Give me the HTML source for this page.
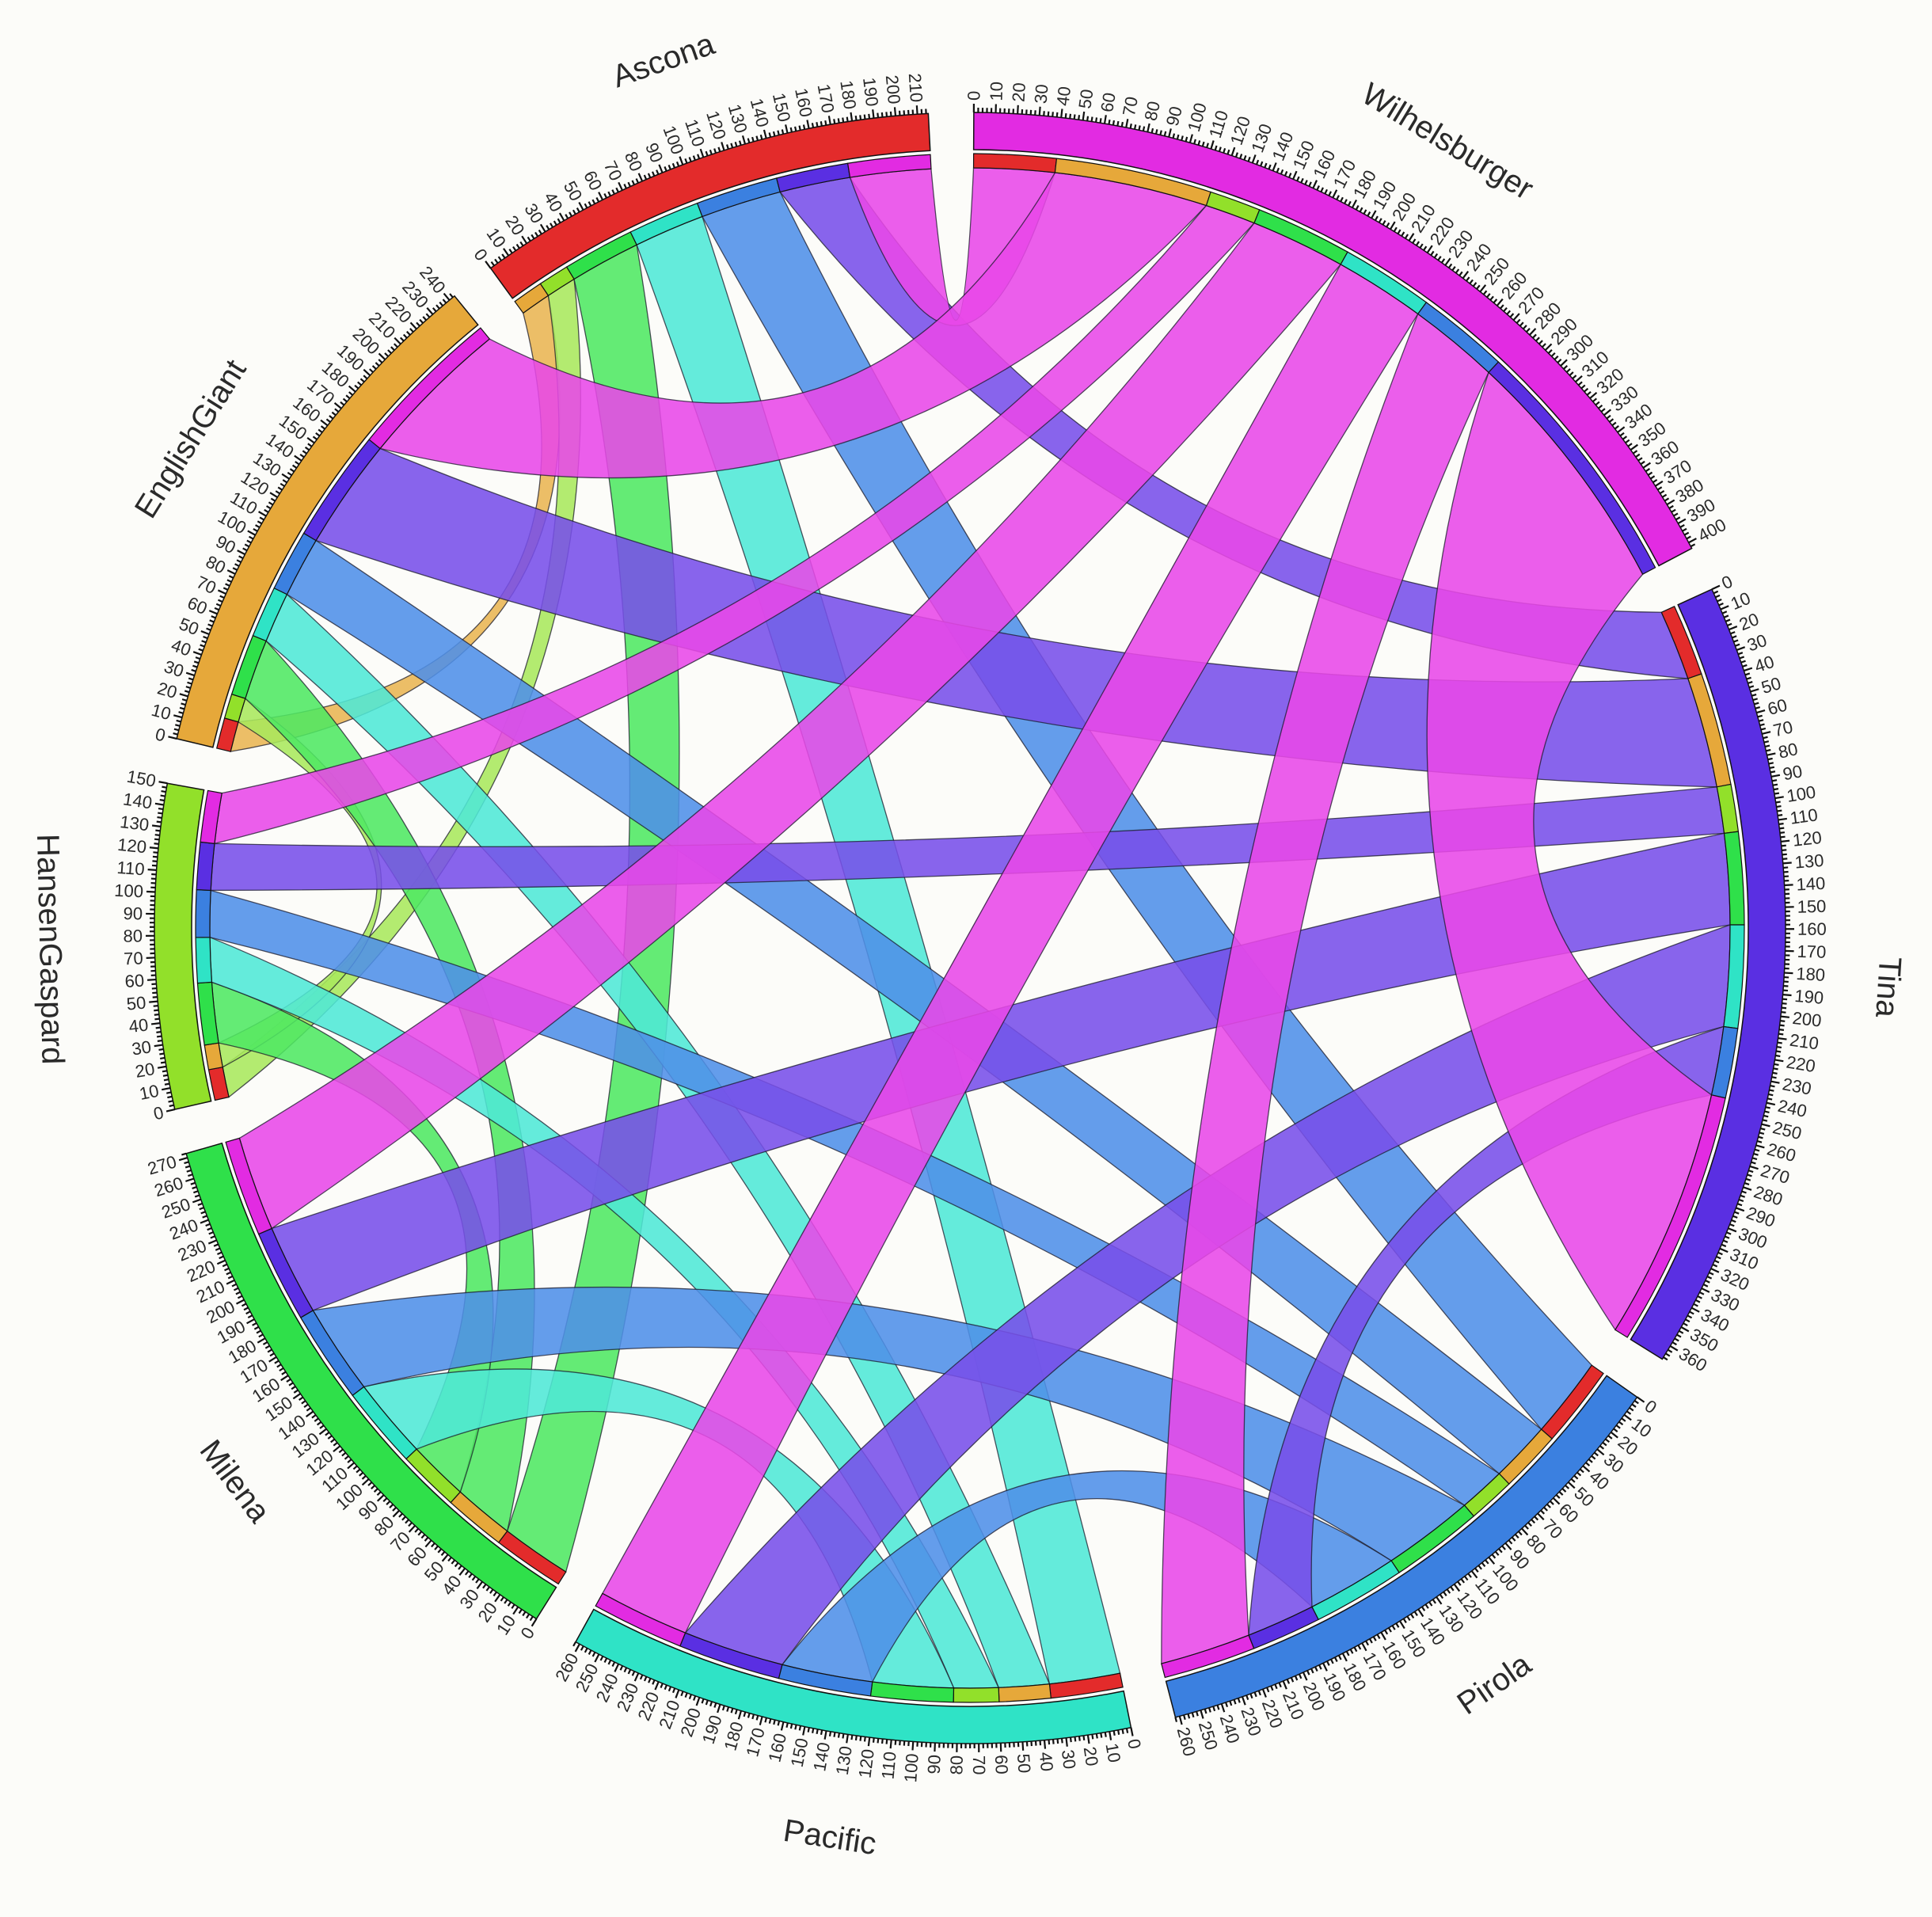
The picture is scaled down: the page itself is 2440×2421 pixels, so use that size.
<!DOCTYPE html>
<html>
<head>
<meta charset="utf-8">
<style>
html,body{margin:0;padding:0;background:#fcfcf9;}
svg{display:block;}
text{font-family:"Liberation Sans","DejaVu Sans",sans-serif;fill:#2a2a2a;}
</style>
</head>
<body>
<svg id="chart" width="2440" height="2421" viewBox="0 0 2440 2421" xmlns="http://www.w3.org/2000/svg">
<rect x="0" y="0" width="2440" height="2421" fill="#fcfcf9"/>
<g id="chords"></g>
<g id="arcs"></g>
<g id="ticks"></g>
<g id="labels"></g>
</svg>
<script>
// ---- data (alphabetical group index) ----
const groups = ["Ascona","EnglishGiant","HansenGaspard","Milena","Pacific","Pirola","Tina","Wilhelsburger"];
const groupColors = ["#e32b2b","#e6a83a","#92e02a","#2fe04a","#2fe3c6","#3b80e0","#5a2fe2","#e22be2"];
const chordColors = ["#e84848","#e9b552","#a8e85c","#4fe862","#4fe8d6","#4f8fe8","#784ee9","#e848e8"];
const rowAscona        = [0, 15, 15, 35, 35, 40, 35, 40];
const rowEnglishGiant  = [15, 0, 12, 30, 25, 30, 55, 76];
const rowHansenGaspard = [15, 12, 0, 30, 22, 23, 23, 25];
const rowMilena        = [35, 30, 30, 0, 40, 45, 45, 47];
const rowPacific       = [35, 25, 22, 40, 0, 45, 50, 45];
const rowPirola        = [40, 30, 23, 45, 45, 0, 34, 45];
const rowTina          = [35, 55, 23, 45, 50, 34, 0, 125];
const rowWilhelsburger = [40, 76, 25, 47, 45, 45, 125, 0];
const layoutOrder = [0, 7, 6, 5, 4, 3, 2, 1];
const tickStep = 10;

const matrix = [rowAscona,rowEnglishGiant,rowHansenGaspard,rowMilena,rowPacific,rowPirola,rowTina,rowWilhelsburger];

// ---- geometry ----
const NS = "http://www.w3.org/2000/svg";
const cx = 1225, cy = 1172;
const rOuter = 1030, rInner = 983, rStripOut = 978, rStripIn = 960, rChord = 960;
const gapDeg = 3.2, startDeg = -126;
const pull = 0.6;
const totals = matrix.map(r => r.reduce((a,b)=>a+b,0));
const grand = totals.reduce((a,b)=>a+b,0);
const k = (360 - gapDeg*groups.length) / grand;
const rad = d => d*Math.PI/180;
const pt = (r,d) => [cx + r*Math.cos(rad(d)), cy + r*Math.sin(rad(d))];
const f = n => n.toFixed(2);

const gStart = {};
let a = startDeg;
layoutOrder.forEach(g => { gStart[g] = a; a += totals[g]*k + gapDeg; });
const valToDeg = (g, v) => gStart[g] + v*k;

const seg = {};
groups.forEach((_, g) => {
  let off = 0;
  groups.forEach((_, o) => {
    if (o === g) return;
    seg[g+"_"+o] = [valToDeg(g, off), valToDeg(g, off + matrix[g][o])];
    off += matrix[g][o];
  });
});

function annulus(r0, r1, d0, d1) {
  const p1 = pt(r1,d0), p2 = pt(r1,d1), p3 = pt(r0,d1), p4 = pt(r0,d0);
  const large = (d1-d0) > 180 ? 1 : 0;
  return `M${f(p1[0])},${f(p1[1])}A${r1},${r1} 0 ${large} 1 ${f(p2[0])},${f(p2[1])}L${f(p3[0])},${f(p3[1])}A${r0},${r0} 0 ${large} 0 ${f(p4[0])},${f(p4[1])}Z`;
}
function ctrl(p, q) {
  return [cx + pull*((p[0]+q[0])/2 - cx), cy + pull*((p[1]+q[1])/2 - cy)];
}
function ribbon(s0, s1, t0, t1) {
  const a0 = pt(rChord,s0), a1 = pt(rChord,s1), b0 = pt(rChord,t0), b1 = pt(rChord,t1);
  const c1 = ctrl(a1, b0), c2 = ctrl(b1, a0);
  return `M${f(a0[0])},${f(a0[1])}A${rChord},${rChord} 0 0 1 ${f(a1[0])},${f(a1[1])}Q${f(c1[0])},${f(c1[1])} ${f(b0[0])},${f(b0[1])}A${rChord},${rChord} 0 0 1 ${f(b1[0])},${f(b1[1])}Q${f(c2[0])},${f(c2[1])} ${f(a0[0])},${f(a0[1])}Z`;
}

const chordLayer = document.getElementById("chords");
for (let i = 0; i < groups.length; i++) {
  for (let j = i+1; j < groups.length; j++) {
    if (!matrix[i][j]) continue;
    const s = seg[i+"_"+j], t = seg[j+"_"+i];
    const p = document.createElementNS(NS, "path");
    p.setAttribute("d", ribbon(s[0], s[1], t[0], t[1]));
    p.setAttribute("fill", chordColors[Math.max(i,j)]);
    p.setAttribute("fill-opacity", "0.88");
    p.setAttribute("stroke", "#1a1a2a");
    p.setAttribute("stroke-width", "1.3");
    p.setAttribute("stroke-opacity", "0.75");
    
    
    chordLayer.appendChild(p);
  }
}

const arcLayer = document.getElementById("arcs");
const tickLayer = document.getElementById("ticks");
const labelLayer = document.getElementById("labels");
groups.forEach((name, g) => {
  const d0 = valToDeg(g, 0), d1 = valToDeg(g, totals[g]);
  const arc = document.createElementNS(NS, "path");
  arc.setAttribute("d", annulus(rInner, rOuter, d0, d1));
  arc.setAttribute("fill", groupColors[g]);
  arc.setAttribute("stroke", "#111");
  arc.setAttribute("stroke-width", "1.5");
  
  
  arcLayer.appendChild(arc);

  groups.forEach((_, o) => {
    if (o === g || !matrix[g][o]) return;
    const s = seg[g+"_"+o];
    const st = document.createElementNS(NS, "path");
    st.setAttribute("d", annulus(rStripIn, rStripOut, s[0], s[1]));
    st.setAttribute("fill", groupColors[o]);
    st.setAttribute("stroke", "#111");
    st.setAttribute("stroke-width", "1.2");
    
    
    arcLayer.appendChild(st);
  });

  let dpath = "";
  for (let v = 0; v <= totals[g]; v += 2) {
    const dd = valToDeg(g, v);
    const len = (v % tickStep === 0) ? 11 : 6;
    const p1 = pt(rOuter, dd), p2 = pt(rOuter + len, dd);
    dpath += `M${f(p1[0])},${f(p1[1])}L${f(p2[0])},${f(p2[1])}`;
  }
  const tk = document.createElementNS(NS, "path");
  tk.setAttribute("d", dpath);
  tk.setAttribute("stroke", "#111");
  tk.setAttribute("stroke-width", "2.2");
  
  
  tickLayer.appendChild(tk);

  for (let v = 0; v <= totals[g]; v += tickStep) {
    const dd = valToDeg(g, v);
    const p = pt(rOuter + 15, dd);
    const t = document.createElementNS(NS, "text");
    const right = Math.cos(rad(dd)) >= 0;
    const rot = right ? dd : dd + 180;
    t.setAttribute("x", f(p[0]));
    t.setAttribute("y", f(p[1]));
    t.setAttribute("transform", `rotate(${f(rot)} ${f(p[0])} ${f(p[1])})`);
    t.setAttribute("text-anchor", right ? "start" : "end");
    t.setAttribute("dominant-baseline", "central");
    t.setAttribute("font-size", "22");
    t.textContent = String(v);
    
    
    tickLayer.appendChild(t);
  }

  const mid = (d0 + d1) / 2;
  let m = ((mid % 360) + 360) % 360;
  const lp = pt(1162, mid);
  const rot = (m > 5 && m < 185) ? mid - 90 : mid + 90;
  const gl = document.createElementNS(NS, "text");
  gl.setAttribute("x", f(lp[0]));
  gl.setAttribute("y", f(lp[1]));
  gl.setAttribute("transform", `rotate(${f(rot)} ${f(lp[0])} ${f(lp[1])})`);
  gl.setAttribute("text-anchor", "middle");
  gl.setAttribute("dominant-baseline", "central");
  gl.setAttribute("font-size", "40");
  gl.textContent = name;
  
  
  labelLayer.appendChild(gl);
});
</script>
</body>
</html>
